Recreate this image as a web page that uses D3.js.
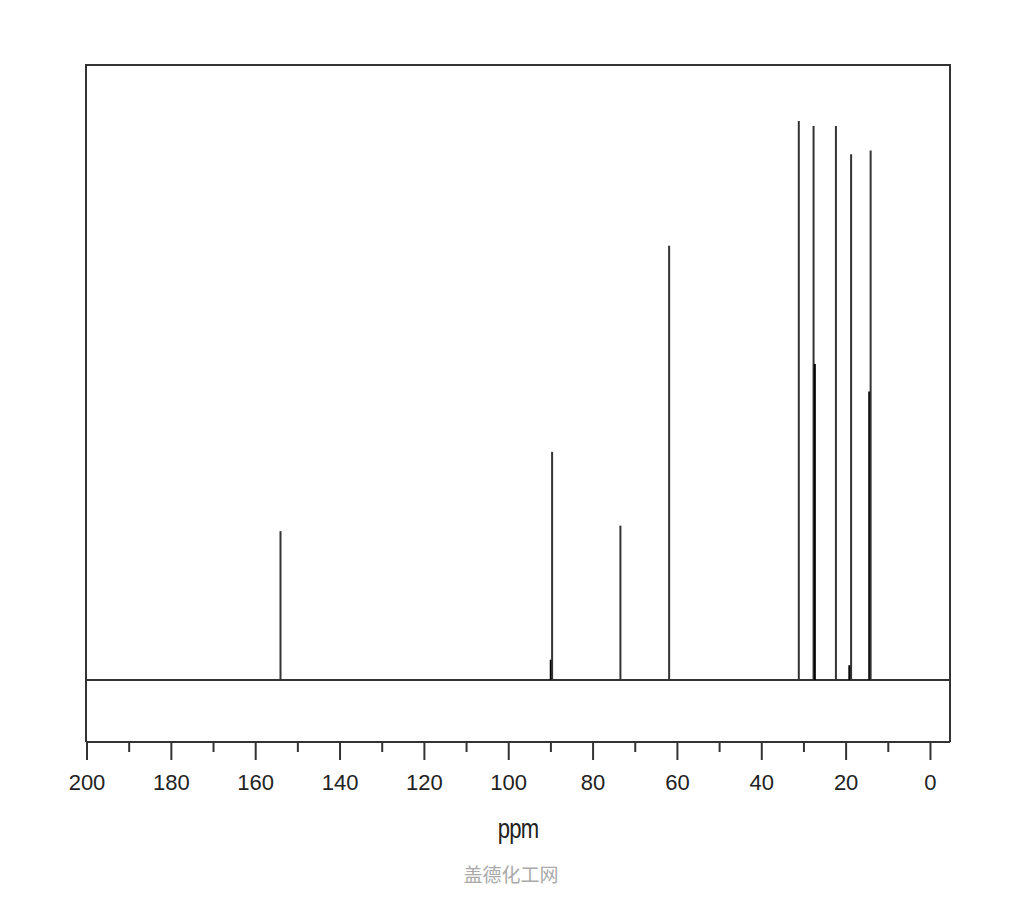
<!DOCTYPE html>
<html><head><meta charset="utf-8">
<script src="https://cdn.jsdelivr.net/npm/d3@7"></script>
<style>body{margin:0;background:#fff;}svg{display:block;}</style>
</head><body>
<svg id="c" width="1024" height="900"></svg>
<script>
const peakShifts = [154.0, 89.8, 89.6, 73.4, 61.85, 31.1, 27.6, 27.3, 22.3, 19.0, 18.7, 14.4, 14.07];
const peakIntensities = [24.2, 3.3, 37.1, 25.1, 70.6, 90.9, 90.1, 51.4, 90.1, 2.4, 85.5, 46.9, 86.1];
const majorTicks = [200, 180, 160, 140, 120, 100, 80, 60, 40, 20, 0];
const minorTicks = [190, 170, 150, 130, 110, 90, 70, 50, 30, 10];
const xTitle = "ppm";
const watermark = "盖德化工网";

const svg = d3.select("#c");
const L = 86, R = 950, T = 65, B = 742, base = 680;
const x = d3.scaleLinear().domain([200, -4.75]).range([L + 0.5, R]);
const y = d3.scaleLinear().domain([0, 100]).range([base, T]);

// frame
svg.append("path")
  .attr("d", `M${L},${B}V${T}H${R}V${B}`)
  .attr("fill", "none").attr("stroke", "#333").attr("stroke-width", 2);

// axis
const ax = svg.append("g").attr("transform", `translate(0,${B})`);
ax.append("line").attr("x1", L).attr("x2", R).attr("y1", 0).attr("y2", 0)
  .attr("stroke", "#333").attr("stroke-width", 2);
const axMajor = d3.axisBottom(x).tickValues(majorTicks).tickSize(18).tickFormat(d3.format("d"));
const gMaj = ax.append("g").call(axMajor);
gMaj.select(".domain").remove();
gMaj.selectAll(".tick line").attr("stroke", "#333").attr("stroke-width", 2);
gMaj.selectAll(".tick text").attr("font-family", "Liberation Sans, Arial, sans-serif")
  .attr("font-size", 22).attr("fill", "#222").attr("dy", 0).attr("y", 48);
const axMinor = d3.axisBottom(x).tickValues(minorTicks).tickSize(10).tickFormat("");
const gMin = ax.append("g").call(axMinor);
gMin.select(".domain").remove();
gMin.selectAll(".tick line").attr("stroke", "#333").attr("stroke-width", 2);

// baseline
svg.append("line").attr("x1", L).attr("x2", R).attr("y1", base).attr("y2", base)
  .attr("stroke", "#333").attr("stroke-width", 2);

// peaks
const peaks = peakShifts.map((s, i) => ({s, v: peakIntensities[i]}));
svg.append("g").selectAll("line").data(peaks).join("line")
  .attr("x1", d => x(d.s)).attr("x2", d => x(d.s))
  .attr("y1", base).attr("y2", d => y(d.v))
  .attr("stroke", d => d.v < 60 && d.v > 40 || d.v < 5 ? "#000" : "#333")
  .attr("stroke-width", d => d.v < 5 ? 3 : 2);

// title
svg.append("text").attr("x", 518).attr("y", 838).attr("text-anchor", "middle")
  .attr("font-family", "Liberation Sans, Arial, sans-serif").attr("font-size", 27)
  .attr("fill", "#222").attr("transform", "translate(518,0) scale(0.82,1) translate(-518,0)")
  .attr("letter-spacing", -1)
  .text(xTitle);

svg.append("text").attr("x", 511).attr("y", 882).attr("text-anchor", "middle")
  .attr("font-family", "Noto Sans CJK SC, sans-serif").attr("font-size", 19)
  .attr("fill", "#aaa").text(watermark);
</script>
</body></html>
